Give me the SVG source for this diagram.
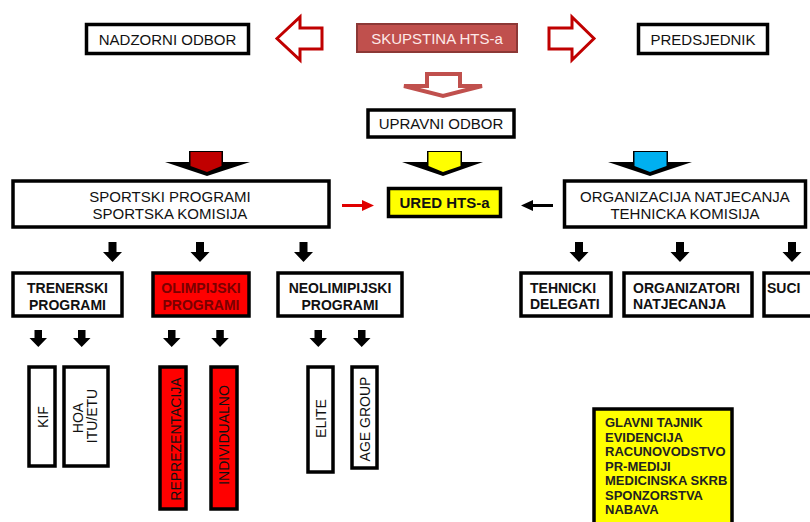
<svg xmlns="http://www.w3.org/2000/svg" width="810" height="522" viewBox="0 0 810 522">
<style>
text{font-family:"Liberation Sans",Arial,sans-serif;fill:#111}
.box{fill:#fff;stroke:#000;stroke-width:3.5}
.t15{font-size:15px;text-anchor:middle}
.t14{font-size:14px;font-weight:bold}
.c{text-anchor:middle}
.v{font-size:14px;text-anchor:middle}
.red{fill:#ff0000;stroke:#000;stroke-width:3.5}
.hol{fill:#fff;stroke:#c00000;stroke-width:3;stroke-linejoin:miter}
.blk{fill:#000}
</style>
<rect width="810" height="522" fill="#fff"/>

<g id="connectors">
  <!-- hollow arrows -->
  <polygon class="hol" points="277,38.5 300,17 300,28 322,28 322,49 300,49 300,60"/>
  <polygon class="hol" points="549,28 572,28 572,17 594,38.5 572,60 572,49 549,49"/>
  <polygon fill="#fff" stroke="#c0504d" stroke-width="4" stroke-linejoin="miter" points="427,74 460,74 460,86 482,86 443,96 404,86 427,86"/>
  <!-- colored 3D arrows -->
  <g>
    <polygon class="blk" points="189,151 223,151 223,162 250,162 207,176 165,162 189,162"/>
    <polygon fill="#c00000" points="190.5,152 221.5,152 221.5,166 207,172 190.5,166"/>
  </g>
  <g>
    <polygon class="blk" points="427,151 462,151 462,162 483,162 443,176 402,162 427,162"/>
    <polygon fill="#ffff00" points="428.5,152 460.5,152 460.5,166 443,172 428.5,166"/>
  </g>
  <g>
    <polygon class="blk" points="633,151 668,151 668,162 692,162 650,176 608,162 633,162"/>
    <polygon fill="#00b0f0" points="634.5,152 666.5,152 666.5,166 650,172 634.5,166"/>
  </g>
  <!-- horizontal arrows to URED -->
  <line x1="342" y1="205.5" x2="364" y2="205.5" stroke="#e00000" stroke-width="3"/>
  <polygon fill="#e00000" points="362,200 374,205.5 362,211"/>
  <line x1="531" y1="205.5" x2="553" y2="205.5" stroke="#000" stroke-width="3"/>
  <polygon fill="#000" points="533,200 521,205.5 533,211"/>
  <!-- small black down arrows row 2 -->
  <g class="blk">
    <polygon points="108.5,242 116.5,242 116.5,252 122,252 112.5,262 103,252 108.5,252"/>
    <polygon points="196,242 204,242 204,252 209.5,252 200,262 190.5,252 196,252"/>
    <polygon points="299.5,242 307.5,242 307.5,252 313,252 303.5,262 294,252 299.5,252"/>
    <polygon points="575,242 583,242 583,252 588.5,252 579,262 569.5,252 575,252"/>
    <polygon points="676,242 684,242 684,252 689.5,252 680,262 670.5,252 676,252"/>
    <polygon points="788,242 796,242 796,252 801.5,252 792,262 782.5,252 788,252"/>
  </g>
  <!-- small black down arrows row 3 -->
  <g class="blk">
    <polygon points="34.5,330 42,330 42,338 47,338 38.3,347 29.5,338 34.5,338"/>
    <polygon points="78,330 85.5,330 85.5,338 90.5,338 81.7,347 73,338 78,338"/>
    <polygon points="168,330 175.5,330 175.5,338 180.5,338 171.7,347 163,338 168,338"/>
    <polygon points="216.3,330 223.8,330 223.8,338 228.8,338 220,347 211.3,338 216.3,338"/>
    <polygon points="314.5,330 322,330 322,338 327,338 318.3,347 309.5,338 314.5,338"/>
    <polygon points="358,330 365.5,330 365.5,338 370.5,338 361.7,347 353,338 358,338"/>
  </g>
</g>

<g id="nadzorni-odbor">
  <rect class="box" x="86.5" y="24.5" width="162" height="29"/>
  <text class="t15" x="167.5" y="44.5">NADZORNI ODBOR</text>
</g>
<g id="skupstina">
  <rect x="357" y="24" width="160" height="28" fill="#c0504d" stroke="#8c3836" stroke-width="2"/>
  <text class="t15" x="437" y="44" style="fill:#fde9e8">SKUPSTINA HTS-a</text>
</g>
<g id="predsjednik">
  <rect class="box" x="638.5" y="24.5" width="129" height="29"/>
  <text class="t15" x="703" y="44.5">PREDSJEDNIK</text>
</g>
<g id="upravni-odbor">
  <rect class="box" x="368" y="110" width="146" height="27"/>
  <text class="t15" x="441" y="129">UPRAVNI ODBOR</text>
</g>
<g id="sportski-programi">
  <rect class="box" x="13" y="181" width="316" height="46"/>
  <text class="t15" x="170" y="202">SPORTSKI PROGRAMI</text>
  <text class="t15" x="170" y="218.5">SPORTSKA KOMISIJA</text>
</g>
<g id="ured">
  <rect x="388.5" y="188.5" width="112" height="28" fill="#ffff00" stroke="#000" stroke-width="3.5"/>
  <text class="t15" x="444.5" y="208" style="font-weight:bold">URED HTS-a</text>
</g>
<g id="organizacija">
  <rect class="box" x="564.5" y="181" width="241" height="46"/>
  <text class="t15" x="685" y="202">ORGANIZACIJA NATJECANJA</text>
  <text class="t15" x="685" y="218.5">TEHNICKA KOMISIJA</text>
</g>

<g id="trenerski">
  <rect class="box" x="13" y="273" width="109" height="43"/>
  <text class="t14 c" x="67.5" y="293">TRENERSKI</text>
  <text class="t14 c" x="67.5" y="309.5">PROGRAMI</text>
</g>
<g id="olimpijski">
  <rect class="red" x="153" y="273" width="96" height="43"/>
  <text class="t14 c" x="201" y="293" style="fill:#7a0000">OLIMPIJSKI</text>
  <text class="t14 c" x="201" y="309.5" style="fill:#7a0000">PROGRAMI</text>
</g>
<g id="neolimpijski">
  <rect class="box" x="278" y="273" width="124" height="43"/>
  <text class="t14 c" x="340" y="293">NEOLIMIPIJSKI</text>
  <text class="t14 c" x="340" y="309.5">PROGRAMI</text>
</g>
<g id="tehnicki-delegati">
  <rect class="box" x="521" y="273" width="90" height="43"/>
  <text class="t14" x="530" y="293">TEHNICKI</text>
  <text class="t14" x="530" y="309">DELEGATI</text>
</g>
<g id="organizatori">
  <rect class="box" x="624" y="273" width="128" height="43"/>
  <text class="t14" x="633" y="293">ORGANIZATORI</text>
  <text class="t14" x="633" y="309">NATJECANJA</text>
</g>
<g id="suci">
  <rect class="box" x="764" y="273" width="60" height="43"/>
  <text class="t14" x="767" y="293">SUCI</text>
</g>

<g id="kif">
  <rect class="box" x="29" y="367" width="26" height="99"/>
  <text class="v" transform="translate(47.5,417) rotate(-90)">KIF</text>
</g>
<g id="hoa">
  <rect class="box" x="64" y="367" width="44" height="99"/>
  <text class="v" transform="translate(83,418) rotate(-90)">HOA</text>
  <text class="v" transform="translate(97,416) rotate(-90)">ITU/ETU</text>
</g>
<g id="reprezentacija">
  <rect class="red" x="160" y="367" width="26" height="142"/>
  <text class="v" transform="translate(181,439) rotate(-90)">REPREZENTACIJA</text>
</g>
<g id="individualno">
  <rect class="red" x="211" y="367" width="26" height="142"/>
  <text class="v" transform="translate(229,435) rotate(-90)">INDIVIDUALNO</text>
</g>
<g id="elite">
  <rect class="box" x="308" y="367" width="25" height="105"/>
  <text class="v" transform="translate(326,418.5) rotate(-90)">ELITE</text>
</g>
<g id="age-group">
  <rect class="box" x="352" y="367" width="25" height="101"/>
  <text class="v" transform="translate(369.5,419) rotate(-90)">AGE GROUP</text>
</g>

<g id="ured-detalji">
  <rect x="594" y="409" width="138" height="125" fill="#ffff00" stroke="#000" stroke-width="3.5"/>
  <g style="font-size:13px;font-weight:bold">
    <text x="605" y="427" style="fill:#222">GLAVNI TAJNIK</text>
    <text x="605" y="441.5" style="fill:#222">EVIDENCIJA</text>
    <text x="605" y="456" style="fill:#222">RACUNOVODSTVO</text>
    <text x="605" y="470.5" style="fill:#222">PR-MEDIJI</text>
    <text x="605" y="485" style="fill:#222">MEDICINSKA SKRB</text>
    <text x="605" y="499.5" style="fill:#222">SPONZORSTVA</text>
    <text x="605" y="514" style="fill:#222">NABAVA</text>
  </g>
</g>
</svg>
